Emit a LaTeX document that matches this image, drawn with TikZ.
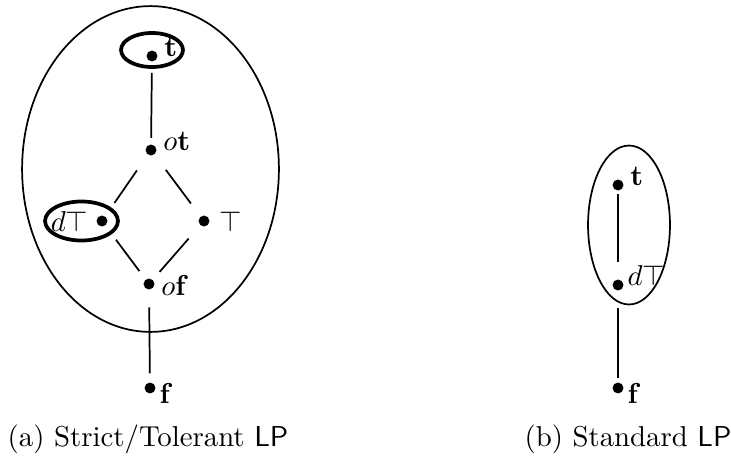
\documentclass[tikz,border=0pt]{standalone}
\usepackage{amsmath,amssymb}
\usetikzlibrary{shapes.geometric}
\tikzset{
  pt/.style={circle,fill,inner sep=0pt,minimum size=3.8pt},
  lbl/.style={inner sep=0pt,label distance=2pt},
  link/.style={line width=0.6pt,shorten <=4pt,shorten >=4pt},
  hull/.style={draw,ellipse,inner sep=0pt,line width=0.6pt},
  ring/.style={draw,ellipse,inner sep=0pt,line width=1.3pt},
}

\begin{document}
\begin{tikzpicture}[x=0.0122cm,y=-0.0122cm]
\useasboundingbox (0,0) rectangle (731,455);

% (a) strict/tolerant
\node[hull,minimum width=3.135cm,minimum height=3.977cm] (outerA) at (150.5,169) {};
\node[pt,label={[lbl,anchor=base west]0:$\mathbf{t}$}] (tA) at (152,56) {};
\node[pt,label={[lbl,anchor=base west]0:$o\mathbf{t}$}] (otA) at (151,150) {};
\node[pt,label={[lbl,label distance=2.5pt]left:$d\top$}] (dtA) at (102,221) {};
\node[pt,label={[lbl,label distance=3pt]right:$\top$}] (topA) at (204,221) {};
\node[pt,label={[lbl,anchor=base west,yshift=-4pt]0:$o\mathbf{f}$}] (ofA) at (149,284) {};
\node[pt,label={[lbl,anchor=base west,xshift=-1pt,yshift=-5.4pt]0:$\mathbf{f}$}] (fA) at (150,388) {};
\node[ring,minimum width=0.756cm,minimum height=0.415cm] (ringT) at (152,50) {};
\node[ring,minimum width=0.89cm,minimum height=0.476cm] (ringD) at (81.5,221) {};

\draw[link,shorten <=3.8pt,shorten >=2.1pt] (tA) -- (otA);
\draw[link,shorten <=6.5pt,shorten >=5.5pt] (otA) -- (dtA);
\draw[link,shorten <=6.5pt,shorten >=5.5pt] (otA) -- (topA);
\draw[link,shorten <=6pt,shorten >=3.5pt] (dtA) -- (ofA);
\draw[link,shorten <=6pt,shorten >=3.5pt] (topA) -- (ofA);
\draw[link,shorten <=6pt,shorten >=3pt] (ofA) -- (fA);

\node[anchor=base] (capA) at (148,446) {(a) Strict/Tolerant \textsf{LP}};

% (b) standard
\node[hull,minimum width=1.0cm,minimum height=1.94cm] (outerB) at (629,225) {};
\node[pt,label={[lbl,anchor=base west]0:$\mathbf{t}$}] (tB) at (618,185) {};
\node[pt,label={[lbl,anchor=base west,xshift=-1pt]0:$d\top$}] (dtB) at (618,285) {};
\node[pt,label={[lbl,anchor=base west,xshift=-1pt,yshift=-5.4pt]0:$\mathbf{f}$}] (fB) at (618,388) {};

\draw[link,shorten <=1.1pt,shorten >=5.8pt] (tB) -- (dtB);
\draw[link,shorten <=5.8pt,shorten >=1.5pt] (dtB) -- (fB);

\node[anchor=base] (capB) at (628,446) {(b) Standard \textsf{LP}};
\end{tikzpicture}
\end{document}
